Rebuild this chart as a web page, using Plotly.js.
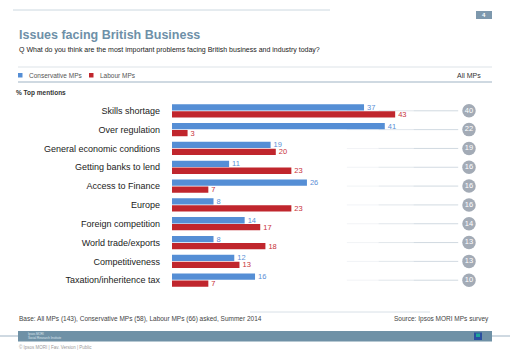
<!DOCTYPE html>
<html><head><meta charset="utf-8">
<script src="https://cdn.plot.ly/plotly-3.0.1.min.js"></script>
<style>html,body{margin:0;padding:0;background:#fff}#c{width:510px;height:353px}</style>
</head><body><div id="c"></div>
<script>
var categories = ["Skills shortage","Over regulation","General economic conditions","Getting banks to lend","Access to Finance","Europe","Foreign competition","World trade/exports","Competitiveness","Taxation/inheritence tax"];
var conservative = [37,41,19,11,26,8,14,8,12,16];
var labour = [43,3,20,23,7,23,17,18,13,7];
var allMPs = [40,22,19,16,16,16,14,13,13,10];
var seriesNames = ["Conservative MPs","Labour MPs"];

var W=510,H=353,L=172,R=20,T=92,B=54;
var pw=W-L-R, ph=H-T-B;
function px(x){return (x-L)/pw;}
function py(y){return 1-(y-T)/ph;}
var blue="#558ed5", red="#c0262d", circleX=px(469);

var traces=[
 {type:"bar",orientation:"h",name:seriesNames[0],y:categories,x:conservative,marker:{color:blue},
  text:conservative.map(String),textposition:"outside",cliponaxis:false,constraintext:"none",
  textfont:{family:"Liberation Sans, Arial, sans-serif",size:7.5,color:"#5b8fd6"},hoverinfo:"none"},
 {type:"bar",orientation:"h",name:seriesNames[1],y:categories,x:labour,marker:{color:red},
  text:labour.map(String),textposition:"outside",cliponaxis:false,constraintext:"none",
  textfont:{family:"Liberation Sans, Arial, sans-serif",size:7.5,color:"#c8313a"},hoverinfo:"none"},
 {type:"scatter",mode:"markers+text",xaxis:"x2",y:categories,x:categories.map(function(){return circleX;}),
  marker:{size:13.5,color:"#a3abb6"},text:allMPs.map(String),textposition:"middle center",
  textfont:{family:"Liberation Sans, Arial, sans-serif",size:7.5,color:"#ffffff"},hoverinfo:"none",cliponaxis:false}
];

var shapes=[], ann=[];
function hline(x0,x1,y,color,w){shapes.push({type:"line",xref:"paper",yref:"paper",x0:px(x0),x1:px(x1),y0:py(y),y1:py(y),line:{color:color,width:w||1}});}
function rect(x0,x1,y0,y1,color){shapes.push({type:"rect",xref:"paper",yref:"paper",x0:px(x0),x1:px(x1),y0:py(y0),y1:py(y1),fillcolor:color,line:{width:0}});}
function txt(x,y,s,size,color,anchor,bold,fam){ann.push({xref:"paper",yref:"paper",x:px(x),y:py(y),text:bold?"<b>"+s+"</b>":s,showarrow:false,xanchor:anchor||"left",yanchor:"middle",font:{family:fam||"Liberation Sans, Arial, sans-serif",size:size,color:color}});}

// row guide lines (faded)
categories.forEach(function(c){
  [[0.55,0.65,0.12],[0.65,0.76,0.25],[0.76,0.9,0.4]].forEach(function(s){
    shapes.push({type:"line",xref:"paper",yref:"y",x0:s[0],x1:s[1],y0:c,y1:c,layer:"below",line:{color:"rgba(140,160,180,"+s[2]+")",width:1}});
  });
});

// header
hline(13,330,10,"rgba(170,190,205,0.6)",1);
rect(476,492,11,19,"#7d98ad");
txt(484,15,"4",6,"#fff","center",true);
txt(17,35,"Issues facing British Business",12.5,"#6e90a8","left",true,"Liberation Sans, Arial, sans-serif");
txt(17,50,"Q What do you think are the most important problems facing British business and industry today?",7,"#222","left");
hline(18,492,67,"#dde3e8",1);
rect(18,22.5,73,77.5,blue);
txt(27,75,seriesNames[0],6.5,"#555","left");
rect(89,93.5,73,77.5,red);
txt(98,75,seriesNames[1],6.5,"#555","left");
txt(483,75,"All MPs",7,"#333","right");
hline(18,492,82,"#9fb3c4",1);
txt(14,93,"% Top mentions",6.5,"#333","left",true);

// footer
hline(250,430,312,"rgba(190,205,215,0.6)",1);
txt(17,319,"Base: All MPs (143), Conservative MPs (58), Labour MPs (66) asked, Summer 2014",6.5,"#444","left");
txt(491,319,"Source: Ipsos MORI MPs survey",6.5,"#444","right");
hline(0,18,336,"#9fb3c4",1);
hline(492,510,336,"#9fb3c4",1);
rect(18,492,331,341.5,"#6f91a6");
txt(26,334,"Ipsos MORI",3,"#dfe8ee","left");
txt(26,337.5,"Social Research Institute",3,"#dfe8ee","left");
rect(474,482,332.5,340,"#2a4fa0");
rect(476,480,333.5,337,"#1fa59a");
txt(17,347,"© Ipsos MORI | Fav. Version | Public",4.5,"#999","left");

var layout={
 width:W,height:H,margin:{l:L,r:R,t:T,b:B},paper_bgcolor:"#fff",plot_bgcolor:"rgba(0,0,0,0)",
 showlegend:false,barmode:"group",bargap:0.26,bargroupgap:0.1,
 xaxis:{range:[0,pw/5.19],showgrid:false,zeroline:false,showticklabels:false,showline:false,fixedrange:true},
 xaxis2:{overlaying:"x",range:[0,1],visible:false,showgrid:false,zeroline:false},
 yaxis:{type:"category",autorange:"reversed",showgrid:false,zeroline:false,showline:false,ticks:"",ticklabelstandoff:11,
   tickfont:{family:"Liberation Sans, Arial, sans-serif",size:9,color:"#222"}},
 shapes:shapes,annotations:ann,
 font:{family:"Liberation Sans, Arial, sans-serif"}
};
Plotly.newPlot("c",traces,layout,{displayModeBar:false,staticPlot:true});
</script></body></html>
